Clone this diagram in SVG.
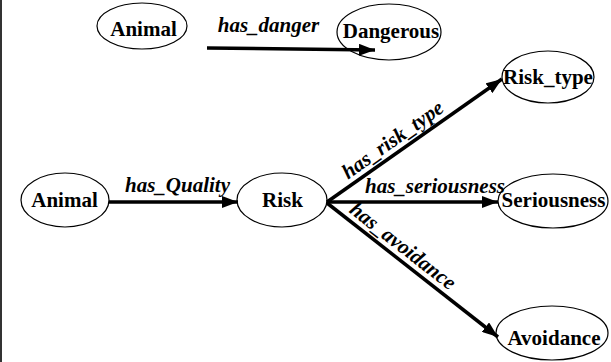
<svg xmlns="http://www.w3.org/2000/svg" width="611" height="362" viewBox="0 0 611 362">
<style>
.node ellipse{fill:#fff;stroke:#000;stroke-width:1.2}
.node text{font-family:'Liberation Serif','Times New Roman','DejaVu Serif',serif;font-weight:bold;font-size:21px;text-anchor:middle;fill:#000}
.edge line{stroke:#000;stroke-width:3.5;marker-end:url(#arr)}
.lbl{font-family:'Liberation Serif','Times New Roman','DejaVu Serif',serif;font-weight:bold;font-style:italic;font-size:21px;text-anchor:middle;fill:#000}
</style>
<defs>
<marker id="arr" viewBox="0 0 16 12" refX="16" refY="6" markerWidth="16" markerHeight="12" markerUnits="userSpaceOnUse" orient="auto">
<path d="M0,0 L16,6 L0,12 z" fill="#000"/>
</marker>
</defs>
<rect width="611" height="362" fill="#fff"/>
<line x1="1" y1="0" x2="1" y2="362" stroke="#333" stroke-width="2"/>
<g id="animal1" class="node"><ellipse cx="142" cy="26" rx="45" ry="23"/><text x="143.5" y="36" font-family="Liberation Serif, serif">Animal</text></g>
<g id="dangerous" class="node"><ellipse cx="389" cy="32" rx="52" ry="28"/><text x="391" y="38" font-family="Liberation Serif, serif">Dangerous</text></g>
<g id="animal2" class="node"><ellipse cx="65" cy="200" rx="44" ry="27"/><text x="64.5" y="207" font-family="Liberation Serif, serif">Animal</text></g>
<g id="risk" class="node"><ellipse cx="282" cy="200" rx="45" ry="27"/><text x="282.5" y="207" font-family="Liberation Serif, serif">Risk</text></g>
<g id="risk_type" class="node"><ellipse cx="548" cy="77" rx="46" ry="26"/><text x="548" y="84" font-family="Liberation Serif, serif">Risk_type</text></g>
<g id="seriousness" class="node"><ellipse cx="553" cy="201" rx="55" ry="27"/><text x="553.5" y="207" font-family="Liberation Serif, serif">Seriousness</text></g>
<g id="avoidance" class="node"><ellipse cx="552" cy="333" rx="56" ry="27"/><text x="554" y="345" font-family="Liberation Serif, serif">Avoidance</text></g>
<g id="connectors" class="edge">
<line x1="207" y1="48" x2="375" y2="50"/>
<line x1="109" y1="202" x2="238" y2="202"/>
<line x1="327" y1="202" x2="502" y2="79"/>
<line x1="327" y1="202" x2="498" y2="202"/>
<line x1="327" y1="203" x2="498" y2="337"/>
<text class="lbl" x="268.5" y="32" font-family="Liberation Serif, serif">has_danger</text>
<text class="lbl" x="177.5" y="192" font-family="Liberation Serif, serif">has_Quality</text>
<text class="lbl" transform="translate(400,150.2) rotate(-35.3)" y="-6" font-family="Liberation Serif, serif">has_risk_type</text>
<text class="lbl" x="435" y="193" font-family="Liberation Serif, serif">has_seriousness</text>
<text class="lbl" transform="translate(395,256) rotate(38)" y="-6" font-family="Liberation Serif, serif">has_avoidance</text>
</g>
</svg>
